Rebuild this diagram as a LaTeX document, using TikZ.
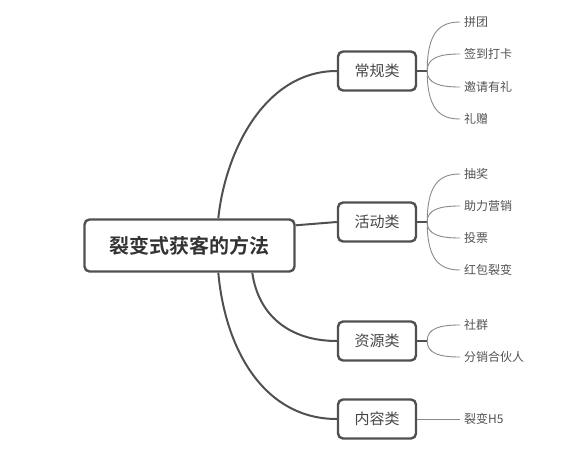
\documentclass[tikz,border=0pt]{standalone}
\usepackage{fontspec}
\newfontfamily\cjk{Noto Sans CJK SC}[BoldFont={Noto Sans CJK SC Bold}]
\usetikzlibrary{calc}
\definecolor{boxline}{HTML}{505050}
\definecolor{twigline}{HTML}{8A8A8A}
\def\twig[#1](#2)(#3){\draw[#1] (#2) .. controls ($(#2)!0.8!(#2 |- #3.west)$) and ($(#3.west)+(-20,0)$) .. (#3.west);}

\begin{document}
\begin{tikzpicture}[x=1pt, y=1pt,
		rootbox/.style={draw=boxline, line width=2.4pt, rounded corners=5pt, fill=white, minimum width=210pt, minimum height=52pt, text=black!80, font=\cjk\bfseries\fontsize{20}{24}\selectfont},
		catbox/.style={draw=boxline, line width=2.4pt, rounded corners=5pt, fill=white, minimum width=78pt, minimum height=39pt, text=black!72, font=\cjk\fontsize{15}{18}\selectfont},
		leaf/.style={anchor=west, inner xsep=4pt, text=black!68, font=\cjk\fontsize{12}{14}\selectfont},
		trunk/.style={draw=boxline, line width=2pt},
		thin/.style={draw=twigline, line width=0.9pt}]
			%%%%% START %%%%%
			
			\useasboundingbox (0, 0) rectangle (571, 451);
			
			\node[rootbox] (root) at (189.5, 205.5) {裂变式获客的方法};
			
			\node[catbox] (c1) at (377, 380) {常规类};
			\node[catbox] (c2) at (377, 229) {活动类};
			\node[catbox] (c3) at (377, 110) {资源类};
			\node[catbox] (c4) at (377, 32) {内容类};
			
			\coordinate (rtop) at ($(root.north west)+(135, 0)$);
			\coordinate (rbot1) at ($(root.south west)+(135, 0)$);
			\coordinate (rbot2) at ($(root.south west)+(169, 0)$);
			\coordinate (rright) at ($(root.north east)+(0, -7)$);
			
			\draw[trunk] (rtop) .. controls ($(rtop)+(7, 67)$) and ($(c1.west)+(-72, 0)$) .. (c1.west);
			\draw[trunk] (rright) -- (c2.west);
			\draw[trunk] (rbot2) .. controls ($(rbot2)+(6, -43)$) and ($(c3.west)+(-47, 0)$) .. (c3.west);
			\draw[trunk] (rbot1) .. controls ($(rbot1)+(7, -78)$) and ($(c4.west)+(-72, 0)$) .. (c4.west);
			
			\node[leaf] (l11) at (460, 429) {拼团};
			\node[leaf] (l12) at (460, 397) {签到打卡};
			\node[leaf] (l13) at (460, 364) {邀请有礼};
			\node[leaf] (l14) at (460, 332) {礼赠};
			
			\node[leaf] (l21) at (460, 277) {抽奖};
			\node[leaf] (l22) at (460, 245) {助力营销};
			\node[leaf] (l23) at (460, 213) {投票};
			\node[leaf] (l24) at (460, 181) {红包裂变};
			
			\node[leaf] (l31) at (460, 126) {社群};
			\node[leaf] (l32) at (460, 94) {分销合伙人};
			
			\node[leaf] (l41) at (460, 32) {裂变H5};
			
			\coordinate (b1) at ($(c1.east)+(10, 0)$);
			\coordinate (b2) at ($(c2.east)+(10, 0)$);
			\coordinate (b3) at ($(c3.east)+(10, 0)$);
			
			\draw[trunk] (c1.east) -- (b1);
			\draw[trunk] (c2.east) -- (b2);
			\draw[trunk] (c3.east) -- (b3);
			
			\twig[thin](b1)(l11);
			\twig[thin](b1)(l12);
			\twig[thin](b1)(l13);
			\twig[thin](b1)(l14);
			
			\twig[thin](b2)(l21);
			\twig[thin](b2)(l22);
			\twig[thin](b2)(l23);
			\twig[thin](b2)(l24);
			
			\twig[thin](b3)(l31);
			\twig[thin](b3)(l32);
			
			\draw[thin] (c4.east) -- (l41.west);
			
			%%%%% END %%%%%
		\end{tikzpicture}
\end{document}
